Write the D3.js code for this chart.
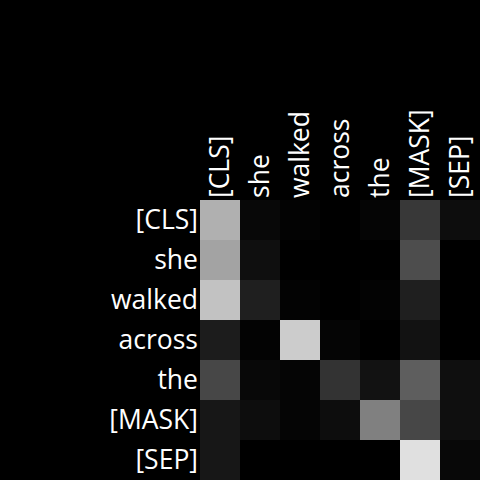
<!DOCTYPE html>
<html>
<head>
<meta charset="utf-8">
<script src="https://cdn.jsdelivr.net/npm/d3@7"></script>
<style>
  html, body { margin: 0; padding: 0; background: #000; }
  text { font-family: "Open Sans", "Noto Sans", sans-serif; fill: #fff; }
</style>
</head>
<body>
<div id="chart"></div>
<script>
var svgWidth = 480;
var svgHeight = 480;

// tokens for both axes
var tokens = ["[CLS]", "she", "walked", "across", "the", "[MASK]", "[SEP]"];

// attention weights, one row per query token
var row0 = [0.69, 0.03, 0.01, 0.00, 0.02, 0.22, 0.05];
var row1 = [0.64, 0.06, 0.00, 0.00, 0.00, 0.30, 0.00];
var row2 = [0.76, 0.12, 0.01, 0.00, 0.01, 0.12, 0.00];
var row3 = [0.11, 0.01, 0.80, 0.02, 0.00, 0.07, 0.00];
var row4 = [0.28, 0.03, 0.02, 0.20, 0.07, 0.37, 0.06];
var row5 = [0.09, 0.05, 0.02, 0.05, 0.50, 0.28, 0.06];
var row6 = [0.09, 0.00, 0.00, 0.00, 0.00, 0.88, 0.03];
var weights = [row0, row1, row2, row3, row4, row5, row6];

var chartMargin = { top: 200, right: 0, bottom: 0, left: 200 };
var width = svgWidth - chartMargin.left - chartMargin.right;
var height = svgHeight - chartMargin.top - chartMargin.bottom;
var labelSize = 26.5;

var svg = d3.select("#chart")
    .append("svg")
    .attr("width", svgWidth)
    .attr("height", svgHeight)
    .style("display", "block")
    .style("background", "#000");

var chartGroup = svg.append("g")
    .attr("transform", `translate(${chartMargin.left}, ${chartMargin.top})`);

var xScale = d3.scaleBand().domain(tokens).range([0, width]);
var yScale = d3.scaleBand().domain(tokens).range([0, height]);
var colorScale = d3.scaleLinear().domain([0, 1]).range(["#000000", "#ffffff"]);

// flatten into cells
var cells = [];
weights.forEach(function(row, i) {
    row.forEach(function(v, j) {
        cells.push({ query: tokens[i], key: tokens[j], value: v });
    });
});

chartGroup.selectAll("rect")
    .data(cells)
    .enter()
    .append("rect")
    .attr("x", d => xScale(d.key))
    .attr("y", d => yScale(d.query))
    .attr("width", xScale.bandwidth())
    .attr("height", yScale.bandwidth())
    .attr("fill", d => colorScale(d.value));

// left labels
chartGroup.selectAll(".rowLabel")
    .data(tokens)
    .enter()
    .append("text")
    .attr("class", "rowLabel")
    .attr("x", -2)
    .attr("y", d => yScale(d) + yScale.bandwidth() / 2)
    .attr("dy", "0.35em")
    .attr("text-anchor", "end")
    .attr("font-size", labelSize)
    .text(d => d);

// top labels, rotated
chartGroup.selectAll(".colLabel")
    .data(tokens)
    .enter()
    .append("text")
    .attr("class", "colLabel")
    .attr("transform", d => `translate(${xScale(d) + xScale.bandwidth() / 2}, -2) rotate(-90)`)
    .attr("dy", "0.35em")
    .attr("text-anchor", "start")
    .attr("font-size", labelSize)
    .text(d => d);
</script>
</body>
</html>
